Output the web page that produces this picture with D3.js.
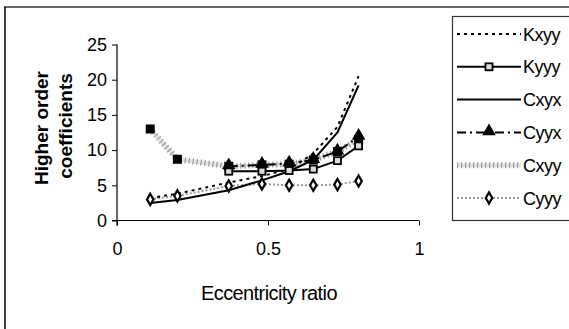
<!DOCTYPE html>
<html><head><meta charset="utf-8">
<script src="https://cdn.jsdelivr.net/npm/d3@7"></script>
<style>body{margin:0;background:#fff}svg{display:block}text{font-family:"Liberation Sans",Arial,sans-serif}</style>
</head><body><svg id="c" width="569" height="329"></svg>
<script>
const xAll = [0.11, 0.2, 0.37, 0.48, 0.57, 0.65, 0.73, 0.8];
const xLate = [0.37, 0.48, 0.57, 0.65, 0.73, 0.8];
const kxyy = [3.2, 3.8, 5.4, 6.3, 7.3, 9.5, 13.3, 20.5];
const kyyy = [7.0, 7.0, 7.1, 7.3, 8.5, 10.6];
const cxyx = [2.5, 2.9, 4.3, 5.7, 7.0, 8.6, 12.5, 19.2];
const cyyx = [7.7, 7.9, 8.1, 8.6, 9.8, 11.9];
const cxyy = [13.0, 8.7, 7.7, 7.9, 8.0, 8.6, 9.8, 11.5];
const cyyy = [3.0, 3.5, 4.9, 5.2, 5.0, 5.0, 5.1, 5.6];
const xTicks = [0, 0.5, 1];
const yTicks = [0, 5, 10, 15, 20, 25];
const seriesNames = ["Kxyy", "Kyyy", "Cxyx", "Cyyx", "Cxyy", "Cyyy"];

const svg = d3.select("#c");
svg.append("line").attr("x1",4).attr("x2",569).attr("y1",7).attr("y2",7).attr("stroke","#666").attr("stroke-width",2);
svg.append("line").attr("x1",5).attr("x2",5).attr("y1",7).attr("y2",329).attr("stroke","#000").attr("stroke-width",1.5);

const x = d3.scaleLinear().domain([0,1]).range([117,419]);
const y = d3.scaleLinear().domain([0,25]).range([220.5,44.5]);

const xa = svg.append("g").attr("transform","translate(0,220.5)")
  .call(d3.axisBottom(x).tickValues(xTicks).tickSize(5).tickPadding(17).tickFormat(d3.format("")));
const ya = svg.append("g").attr("transform","translate(117,0)")
  .call(d3.axisLeft(y).tickValues(yTicks).tickSize(5).tickPadding(5));
[xa,ya].forEach(a=>{a.select(".domain").attr("stroke","#000").attr("stroke-width",1.2);
  a.selectAll(".tick line").attr("stroke","#000");
  a.selectAll("text").attr("font-size",18).attr("fill","#000").style("font-family","Liberation Sans, Arial, sans-serif");});
ya.select(".domain").attr("d","M0,44.5V225.5");
xa.select(".domain").attr("d","M112,0H419");

svg.append("text").attr("x",269).attr("y",300).attr("text-anchor","middle").attr("font-size",20).attr("letter-spacing",-0.6).text("Eccentricity ratio");
svg.append("text").attr("transform","translate(48,128) rotate(-90)").attr("text-anchor","middle").attr("font-size",19).attr("font-weight","bold").text("Higher order");
svg.append("text").attr("transform","translate(72,126) rotate(-90)").attr("text-anchor","middle").attr("font-size",19).attr("font-weight","bold").text("coefficients");

const line = d3.line().x(d=>x(d[0])).y(d=>y(d[1]));
const zip = (xs, ys) => xs.map((v,i)=>[v, ys[i]]);

const styles = {
  Kxyy:{stroke:"#000",w:2,dash:"3,4"},
  Kyyy:{stroke:"#000",w:2,dash:null},
  Cxyx:{stroke:"#000",w:2,dash:null},
  Cyyx:{stroke:"#000",w:2,dash:"9,4,2,4"},
  Cxyy:{stroke:"#999",w:6,dash:"1.2,2.8"},
  Cyyy:{stroke:"#999",w:2,dash:"2,2"}
};
const data = {
  Kxyy: zip(xAll,kxyy), Kyyy: zip(xLate,kyyy), Cxyx: zip(xAll,cxyx),
  Cyyx: zip(xLate,cyyx), Cxyy: zip(xAll,cxyy), Cyyy: zip(xAll,cyyy)
};
const plot = svg.append("g");
function drawLine(g, name, pts){
  const s = styles[name];
  if(name==="Cxyy") g.append("path").attr("d",line(pts)).attr("fill","none").attr("stroke","#e4e4e4").attr("stroke-width",4);
  g.append("path").attr("d",line(pts)).attr("fill","none").attr("stroke",s.stroke).attr("stroke-width",s.w).attr("stroke-dasharray",s.dash);
}
function marker(g, name, cx, cy, legend){
  if(name==="Kyyy") g.append("rect").attr("x",cx-3.5).attr("y",cy-3.5).attr("width",7).attr("height",7).attr("fill","#ddd").attr("stroke","#000").attr("stroke-width",1.8);
  else if(name==="Cyyx") g.append("path").attr("d",d3.symbol(d3.symbolTriangle,80)()).attr("transform",`translate(${cx},${cy-1})`).attr("fill","#000");
  else if(name==="Cxyy") { if(!legend) g.append("rect").attr("x",cx-4.5).attr("y",cy-4.5).attr("width",9).attr("height",9).attr("fill","#000"); }
  else if(name==="Cyyy") g.append("path").attr("d",d3.symbol(d3.symbolDiamond,36)()).attr("transform",`translate(${cx},${cy})`).attr("fill","#fff").attr("stroke","#000").attr("stroke-width",2.2);
}
["Cxyy","Cyyy","Cxyx","Kxyy","Kyyy","Cyyx"].forEach(n=>drawLine(plot,n,data[n]));
["Cxyy","Cyyy","Kyyy","Cyyx"].forEach(n=>data[n].forEach(p=>marker(plot,n,x(p[0]),y(p[1]),false)));

const lg = svg.append("g");
lg.append("rect").attr("x",452.5).attr("y",16.5).attr("width",130).attr("height",204).attr("fill","#fff").attr("stroke","#333").attr("stroke-width",1.2);
seriesNames.forEach((n,i)=>{
  const ly = 34 + i*32.8;
  const row = lg.append("g");
  const s = styles[n];
  if(n==="Cxyy") row.append("line").attr("x1",457).attr("x2",521).attr("y1",ly).attr("y2",ly).attr("stroke","#e4e4e4").attr("stroke-width",4);
  row.append("line").attr("x1",457).attr("x2",521).attr("y1",ly).attr("y2",ly).attr("stroke",s.stroke).attr("stroke-width",s.w).attr("stroke-dasharray",s.dash);
  marker(row,n,489,ly,true);
  row.append("text").attr("x",523).attr("y",ly+6.5).attr("font-size",18).attr("letter-spacing",-0.5).text(n);
});
</script></body></html>
